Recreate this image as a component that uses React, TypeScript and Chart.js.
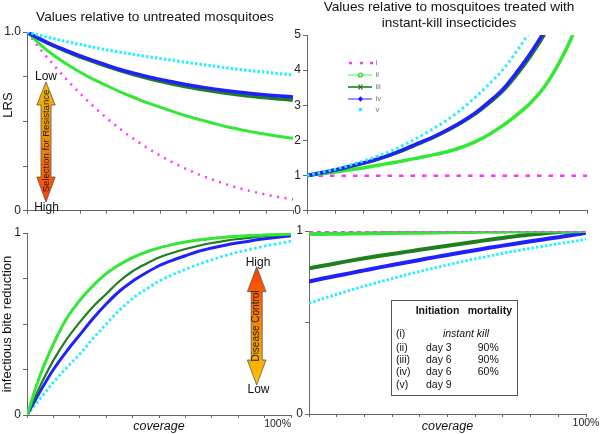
import React, { useEffect, useRef } from 'react';
import { Chart, registerables } from 'chart.js';
Chart.register(...registerables);

const FONT = '"Liberation Sans", Arial, Helvetica, sans-serif';

// ---------- data ----------
const coverage = [0, 5, 10, 15, 20, 25, 30, 35, 40, 45, 50, 55, 60, 65, 70, 75, 80, 85, 90, 95, 100];
const seriesNames = ['i', 'ii', 'iii', 'iv', 'v'];

// LRS relative to untreated mosquitoes
const untreatedI = [1, 0.905, 0.816, 0.733, 0.656, 0.584, 0.518, 0.458, 0.403, 0.354, 0.309, 0.269, 0.233, 0.201, 0.173, 0.148, 0.126, 0.107, 0.09, 0.076, 0.064];
const untreatedII = [1, 0.93, 0.87, 0.82, 0.775, 0.735, 0.7, 0.665, 0.635, 0.605, 0.58, 0.555, 0.53, 0.51, 0.49, 0.47, 0.455, 0.44, 0.428, 0.415, 0.405];
const untreatedIII = [1, 0.958, 0.922, 0.89, 0.86, 0.834, 0.808, 0.784, 0.762, 0.742, 0.724, 0.708, 0.693, 0.68, 0.668, 0.657, 0.647, 0.639, 0.632, 0.625, 0.62];
const untreatedIV = [1, 0.96, 0.925, 0.895, 0.866, 0.84, 0.815, 0.79, 0.77, 0.752, 0.735, 0.72, 0.705, 0.693, 0.682, 0.672, 0.663, 0.655, 0.648, 0.642, 0.637];
const untreatedV = [1, 0.98, 0.963, 0.946, 0.93, 0.915, 0.9, 0.887, 0.875, 0.863, 0.852, 0.841, 0.83, 0.82, 0.81, 0.8, 0.79, 0.782, 0.775, 0.767, 0.76];

// LRS relative to instant-kill insecticides
const instantI = [1, 1, 1, 1, 1, 1, 1, 1, 1, 1, 1, 1, 1, 1, 1, 1, 1, 1, 1, 1, 1];
const instantII = [1, 1.05, 1.1, 1.16, 1.22, 1.29, 1.36, 1.43, 1.51, 1.59, 1.68, 1.8, 1.96, 2.17, 2.43, 2.73, 3.08, 3.55, 4.2, 5.02, 6.1];
const instantIII = [1, 1.08, 1.16, 1.25, 1.35, 1.46, 1.59, 1.74, 1.91, 2.08, 2.28, 2.5, 2.75, 3.06, 3.41, 3.88, 4.42, 5.05, 5.9, null, null];
const instantIV = [1, 1.08, 1.16, 1.26, 1.36, 1.47, 1.6, 1.76, 1.93, 2.1, 2.3, 2.52, 2.78, 3.1, 3.46, 3.95, 4.5, 5.15, 6.0, null, null];
const instantV = [1, 1.09, 1.18, 1.29, 1.41, 1.55, 1.7, 1.89, 2.1, 2.33, 2.58, 2.88, 3.22, 3.6, 4.02, 4.55, 5.15, null, null, null, null];

// infectious bite reduction relative to untreated
const biteI = [0, 0.22, 0.39, 0.53, 0.63, 0.71, 0.777, 0.826, 0.865, 0.895, 0.918, 0.936, 0.95, 0.961, 0.97, 0.977, 0.982, 0.986, 0.989, 0.992, 0.995];
const biteII = [0, 0.22, 0.39, 0.53, 0.63, 0.71, 0.777, 0.826, 0.865, 0.895, 0.918, 0.936, 0.95, 0.961, 0.97, 0.977, 0.982, 0.986, 0.989, 0.992, 0.995];
const biteIII = [0, 0.16, 0.3, 0.415, 0.51, 0.595, 0.665, 0.735, 0.79, 0.83, 0.865, 0.89, 0.912, 0.93, 0.945, 0.957, 0.967, 0.975, 0.982, 0.987, 0.99];
const biteIV = [0, 0.13, 0.25, 0.35, 0.44, 0.53, 0.61, 0.68, 0.735, 0.78, 0.82, 0.85, 0.875, 0.9, 0.918, 0.933, 0.946, 0.958, 0.968, 0.977, 0.985];
const biteV = [0, 0.09, 0.18, 0.26, 0.335, 0.42, 0.5, 0.575, 0.64, 0.69, 0.735, 0.77, 0.8, 0.828, 0.853, 0.876, 0.895, 0.912, 0.928, 0.942, 0.955];

// infectious bite reduction relative to instant-kill
const biteRelI = [1, 1, 1, 1, 1, 1, 1, 1, 1, 1, 1, 1, 1, 1, 1, 1, 1, 1, 1, 1, 1];
const biteRelII = [0.983, 0.984, 0.985, 0.986, 0.987, 0.988, 0.989, 0.99, 0.991, 0.992, 0.993, 0.994, 0.995, 0.996, 0.996, 0.997, 0.998, 0.998, 0.999, 0.999, 1];
const biteRelIII = [0.796, 0.81, 0.824, 0.838, 0.851, 0.863, 0.874, 0.886, 0.897, 0.908, 0.919, 0.93, 0.941, 0.952, 0.962, 0.972, 0.981, 0.988, 0.994, 0.998, 1];
const biteRelIV = [0.724, 0.74, 0.755, 0.77, 0.785, 0.8, 0.814, 0.828, 0.842, 0.856, 0.869, 0.882, 0.895, 0.908, 0.92, 0.932, 0.944, 0.955, 0.966, 0.978, 0.99];
const biteRelV = [0.605, 0.63, 0.654, 0.677, 0.699, 0.72, 0.74, 0.76, 0.779, 0.797, 0.815, 0.832, 0.848, 0.863, 0.878, 0.892, 0.905, 0.918, 0.93, 0.942, 0.955];

const tableHeader = ['Initiation', 'mortality'];
const tableRows = [
  ['(i)', '', ''],
  ['(ii)', 'day 3', '90%'],
  ['(iii)', 'day 6', '90%'],
  ['(iv)', 'day 6', '60%'],
  ['(v)', 'day 9', ''],
];
const instantKillLabel = 'instant kill';

// ---------- styles ----------
const COLORS = ['#ff33ff', '#33e833', '#1f7f1f', '#2020ff', '#22eeff'];

type Style = { w: number; dash: number[] };
type Panel = {
  x: number; y: number; w: number; h: number;
  yW: number; xH: number; padTop: number; padRight: number;
  yMax: number; yStep: number; yLabel: (v: number) => string;
  series: (number | null)[][];
  styles: Style[];
  order: number[];
  x100: 'none' | 'end' | 'center';
  xTitle: boolean; yTitle: string;
  decor: (ctx: CanvasRenderingContext2D) => void;
};

function txt(ctx: CanvasRenderingContext2D, s: string, x: number, y: number, font: string, align: CanvasTextAlign = 'center', base: CanvasTextBaseline = 'middle', color = '#111') {
  ctx.save();
  ctx.font = font;
  ctx.textAlign = align;
  ctx.textBaseline = base;
  ctx.fillStyle = color;
  ctx.fillText(s, x, y);
  ctx.restore();
}

function vtxt(ctx: CanvasRenderingContext2D, s: string, x: number, y: number, font: string, color = '#111') {
  ctx.save();
  ctx.translate(x, y);
  ctx.rotate(-Math.PI / 2);
  ctx.font = font;
  ctx.textAlign = 'center';
  ctx.textBaseline = 'middle';
  ctx.fillStyle = color;
  ctx.fillText(s, 0, 0);
  ctx.restore();
}

function arrow(ctx: CanvasRenderingContext2D, cx: number, tip: number, hb1: number, hb2: number, tip2: number, hh: number, sh: number, c1: string, cm: string, c2: string) {
  ctx.save();
  ctx.beginPath();
  ctx.moveTo(cx, tip);
  ctx.lineTo(cx + hh, hb1);
  ctx.lineTo(cx + sh, hb1);
  ctx.lineTo(cx + sh, hb2);
  ctx.lineTo(cx + hh, hb2);
  ctx.lineTo(cx, tip2);
  ctx.lineTo(cx - hh, hb2);
  ctx.lineTo(cx - sh, hb2);
  ctx.lineTo(cx - sh, hb1);
  ctx.lineTo(cx - hh, hb1);
  ctx.closePath();
  const g = ctx.createLinearGradient(0, tip, 0, tip2);
  g.addColorStop(0, c1);
  g.addColorStop(0.5, cm);
  g.addColorStop(1, c2);
  ctx.fillStyle = g;
  ctx.fill();
  ctx.strokeStyle = '#555';
  ctx.lineWidth = 0.8;
  ctx.stroke();
  ctx.restore();
}

const panels: Panel[] = [
  {
    x: 0, y: 0, w: 294, h: 220, yW: 27, xH: 7, padTop: 32, padRight: 1,
    yMax: 1, yStep: 0.25, yLabel: (v) => (v === 1 ? '1.0' : v === 0 ? '0' : ''),
    series: [untreatedI, untreatedII, untreatedIII, untreatedIV, untreatedV],
    styles: [{ w: 2.5, dash: [2, 5.5] }, { w: 3, dash: [] }, { w: 3.5, dash: [] }, { w: 3.5, dash: [] }, { w: 3, dash: [2.5, 2] }],
    order: [5, 4, 3, 2, 1],
    x100: 'none', xTitle: false, yTitle: '',
    decor: (ctx) => {
      txt(ctx, 'Values relative to untreated mosquitoes', 155, 21, `13.6px ${FONT}`, 'center', 'alphabetic');
      vtxt(ctx, 'LRS', 8.5, 105, `13px ${FONT}`);
      arrow(ctx, 46, 82, 105, 177, 202, 9.2, 5, '#f7b800', '#f28a00', '#ff3c00');
      vtxt(ctx, 'Selection for Resistance', 46, 141, `9.5px ${FONT}`, '#222');
      txt(ctx, 'Low', 46, 77, `12px ${FONT}`);
      txt(ctx, 'High', 46.5, 208, `12px ${FONT}`);
    },
  },
  {
    x: 294, y: 0, w: 306, h: 220, yW: 13, xH: 7, padTop: 35, padRight: 13,
    yMax: 5, yStep: 1, yLabel: (v) => String(v),
    series: [instantI, instantII, instantIII, instantIV, instantV],
    styles: [{ w: 2.5, dash: [4.5, 7] }, { w: 3.5, dash: [] }, { w: 3.5, dash: [] }, { w: 3.5, dash: [] }, { w: 3, dash: [2.5, 3] }],
    order: [5, 4, 3, 2, 1],
    x100: 'none', xTitle: false, yTitle: '',
    decor: (ctx) => {
      const ox = 294;
      txt(ctx, 'Values relative to mosquitoes treated with', 449 - ox, 11, `13.6px ${FONT}`, 'center', 'alphabetic');
      txt(ctx, 'instant-kill insecticides', 449 - ox, 27, `13.6px ${FONT}`, 'center', 'alphabetic');
      const ys = [63, 75, 87, 99, 109.5];
      const x1 = 348 - ox, x2 = 372 - ox, xm = 360.5 - ox;
      ys.forEach((y, k) => {
        ctx.save();
        if (k === 0) {
          ctx.fillStyle = COLORS[0];
          [349, 360, 370].forEach((xx) => ctx.fillRect(xx - ox, y - 1.2, 3, 2.5));
        } else if (k === 4) {
          ctx.fillStyle = COLORS[4];
          ctx.fillRect(xm - 1.6, y - 1.6, 3.2, 3.2);
        } else {
          const lineC = k === 1 ? '#88ff88' : k === 2 ? '#1f7f1f' : '#7777ff';
          ctx.strokeStyle = lineC;
          ctx.lineWidth = 1.6;
          ctx.beginPath();
          ctx.moveTo(x1, y);
          ctx.lineTo(x2, y);
          ctx.stroke();
          if (k === 1) {
            ctx.beginPath();
            ctx.arc(xm, y, 2, 0, Math.PI * 2);
            ctx.fillStyle = '#bbffbb';
            ctx.fill();
            ctx.strokeStyle = '#33cc33';
            ctx.lineWidth = 1.2;
            ctx.stroke();
          } else if (k === 2) {
            ctx.strokeStyle = '#1a6a1a';
            ctx.lineWidth = 1.2;
            ctx.beginPath();
            ctx.moveTo(xm - 2, y - 2.5); ctx.lineTo(xm + 2, y + 2.5);
            ctx.moveTo(xm + 2, y - 2.5); ctx.lineTo(xm - 2, y + 2.5);
            ctx.stroke();
          } else {
            ctx.fillStyle = '#1a1aff';
            ctx.beginPath();
            ctx.moveTo(xm, y - 2.8); ctx.lineTo(xm + 2.5, y); ctx.lineTo(xm, y + 2.8); ctx.lineTo(xm - 2.5, y);
            ctx.closePath();
            ctx.fill();
          }
        }
        ctx.restore();
        txt(ctx, seriesNames[k], 375.5 - ox, y, `8px ${FONT}`, 'left', 'middle', '#777');
      });
    },
  },
  {
    x: 0, y: 220, w: 294, h: 214, yW: 27, xH: 19, padTop: 13, padRight: 3,
    yMax: 1, yStep: 0.25, yLabel: (v) => (v === 1 ? '1' : v === 0 ? '0' : ''),
    series: [biteI, biteII, biteIII, biteIV, biteV],
    styles: [{ w: 2.5, dash: [2, 4] }, { w: 3, dash: [] }, { w: 2.2, dash: [] }, { w: 3, dash: [] }, { w: 2.8, dash: [2.5, 2.5] }],
    order: [5, 1, 2, 3, 4],
    x100: 'end', xTitle: true, yTitle: 'infectious bite reduction',
    decor: (ctx) => {
      const oy = 220;
      arrow(ctx, 256.7, 266.7 - oy, 291.7 - oy, 360 - oy, 385 - oy, 9.3, 5.5, '#ff3c00', '#f28a00', '#ffc600');
      vtxt(ctx, 'Disease Control', 256.7, 326 - oy, `10px ${FONT}`, '#222');
      txt(ctx, 'High', 258, 262.5 - oy, `12px ${FONT}`);
      txt(ctx, 'Low', 258.5, 390 - oy, `12px ${FONT}`);
    },
  },
  {
    x: 294, y: 220, w: 306, h: 214, yW: 15, xH: 20, padTop: 11, padRight: 14,
    yMax: 1, yStep: 0.5, yLabel: (v) => (v === 1 ? '1' : v === 0 ? '0' : ''),
    series: [biteRelI, biteRelII, biteRelIII, biteRelIV, biteRelV],
    styles: [{ w: 2.5, dash: [4, 4] }, { w: 4, dash: [] }, { w: 4, dash: [] }, { w: 4, dash: [] }, { w: 2.8, dash: [2.5, 2] }],
    order: [1, 2, 3, 4, 5],
    x100: 'center', xTitle: true, yTitle: '',
    decor: (ctx) => {
      const ox = 294, oy = 220;
      ctx.save();
      ctx.strokeStyle = '#555';
      ctx.lineWidth = 1;
      ctx.strokeRect(391.5 - ox, 300.5 - oy, 126, 95);
      ctx.restore();
      const f = `10.5px ${FONT}`;
      const fb = `bold 10.5px ${FONT}`;
      txt(ctx, tableHeader[0], 415.7 - ox, 311 - oy, fb, 'left');
      txt(ctx, tableHeader[1], 467.7 - ox, 311 - oy, fb, 'left');
      const ry = [334.3, 347.7, 360, 371.7, 385];
      tableRows.forEach((r, k) => {
        txt(ctx, r[0], 396 - ox, ry[k] - oy, f, 'left');
        if (r[1]) txt(ctx, r[1], 426 - ox, ry[k] - oy, f, 'left');
        if (r[2]) txt(ctx, r[2], 477.7 - ox, ry[k] - oy, f, 'left');
      });
      txt(ctx, instantKillLabel, 466 - ox, ry[0] - oy, `italic 10.5px ${FONT}`, 'center');
    },
  },
];

function buildConfig(p: Panel): any {
  const datasets = p.series.map((vals, k) => ({
    label: seriesNames[k],
    data: coverage.map((c, i) => ({ x: c, y: vals[i] })).filter((d) => d.y !== null),
    borderColor: COLORS[k],
    backgroundColor: COLORS[k],
    borderWidth: p.styles[k].w,
    borderDash: p.styles[k].dash,
    pointRadius: 0,
    fill: false,
    cubicInterpolationMode: 'monotone',
    order: p.order[k],
  }));
  const axisColor = '#666';
  return {
    type: 'line',
    data: { datasets },
    plugins: [{ id: 'decor', afterDraw: (chart: any) => p.decor(chart.ctx) }],
    options: {
      responsive: false,
      animation: false,
      devicePixelRatio: 1,
      layout: { padding: { top: p.padTop, right: p.padRight, left: 0, bottom: 0 } },
      plugins: { legend: { display: false }, tooltip: { enabled: false }, title: { display: false } },
      scales: {
        x: {
          type: 'linear', min: 0, max: 100,
          afterFit: (s: any) => { s.height = p.xH; },
          grid: { drawOnChartArea: false, drawTicks: true, tickLength: 3, color: axisColor },
          border: { display: true, color: axisColor, width: 1 },
          ticks: {
            stepSize: 10, autoSkip: false, maxRotation: 0, padding: 0,
            align: p.x100 === 'end' ? 'end' : 'center',
            font: { family: FONT, size: 10.5 }, color: '#222',
            callback: (v: number) => (p.x100 !== 'none' && v === 100 ? '100%' : ''),
          },
          title: {
            display: p.xTitle, text: 'coverage', color: '#111',
            font: { family: FONT, size: 12.5, style: 'italic' }, padding: { top: 0, bottom: 0 },
          },
        },
        y: {
          type: 'linear', min: 0, max: p.yMax,
          afterFit: (s: any) => { s.width = p.yW; },
          grid: { drawOnChartArea: false, drawTicks: true, tickLength: 4, color: axisColor },
          border: { display: true, color: axisColor, width: 1 },
          ticks: {
            stepSize: p.yStep, autoSkip: false, padding: 2,
            font: { family: FONT, size: 12 }, color: '#222',
            callback: (v: number) => p.yLabel(v),
          },
          title: {
            display: !!p.yTitle, text: p.yTitle, color: '#111',
            font: { family: FONT, size: 13 }, padding: { top: 0, bottom: 0 },
          },
        },
      },
    },
  };
}

export default function App() {
  const refs = useRef<(HTMLCanvasElement | null)[]>([]);
  useEffect(() => {
    const charts = panels.map((p, i) => new Chart(refs.current[i] as HTMLCanvasElement, buildConfig(p)));
    return () => charts.forEach((c) => c.destroy());
  }, []);
  return (
    <div style={{ position: 'fixed', left: 0, top: 0, width: 600, height: 434, background: '#fff', overflow: 'hidden' }}>
      {panels.map((p, i) => (
        <canvas
          key={i}
          ref={(el) => { refs.current[i] = el; }}
          width={p.w}
          height={p.h}
          style={{ position: 'absolute', left: p.x, top: p.y, width: p.w, height: p.h }}
        />
      ))}
    </div>
  );
}
